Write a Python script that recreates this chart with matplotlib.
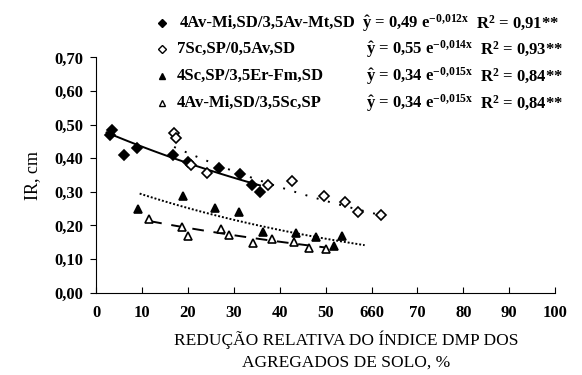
import numpy as np
import matplotlib
matplotlib.use('Agg')
from matplotlib import pyplot as plt
from matplotlib.lines import Line2D

plt.rcParams['font.family'] = ['Liberation Serif', 'DejaVu Serif']
plt.rcParams['mathtext.fontset'] = 'custom'
plt.rcParams['mathtext.rm'] = 'Liberation Serif:bold'
plt.rcParams['mathtext.it'] = 'Liberation Serif:bold'
plt.rcParams['mathtext.bf'] = 'Liberation Serif:bold'

# data
names = ['4Av-Mi,SD/3,5Av-Mt,SD', '7Sc,SP/0,5Av,SD',
         '4Sc,SP/3,5Er-Fm,SD', '4Av-Mi,SD/3,5Sc,SP']
equations = [r'$\hat{\mathrm{y}}$ = 0,49 e$^{\mathrm{-0{,}012x}}$',
             r'$\hat{\mathrm{y}}$ = 0,55 e$^{\mathrm{-0{,}014x}}$',
             r'$\hat{\mathrm{y}}$ = 0,34 e$^{\mathrm{-0{,}015x}}$',
             r'$\hat{\mathrm{y}}$ = 0,34 e$^{\mathrm{-0{,}015x}}$']
r2_texts = [r'R$^{\mathrm{2}}$ = 0,91**', r'R$^{\mathrm{2}}$ = 0,93**',
            r'R$^{\mathrm{2}}$ = 0,84**', r'R$^{\mathrm{2}}$ = 0,84**']

x1 = [3.0, 3.5, 6.0, 8.9, 16.7, 20.0, 26.8, 31.3, 33.9, 35.8]
y1 = [0.470, 0.483, 0.410, 0.430, 0.410, 0.390, 0.371, 0.352, 0.319, 0.299]

x2 = [17.0, 17.4, 20.7, 24.1, 37.5, 42.7, 49.7, 54.3, 57.1, 62.0]
y2 = [0.475, 0.459, 0.380, 0.357, 0.319, 0.332, 0.289, 0.270, 0.241, 0.231]

x3 = [9.2, 19.0, 26.0, 31.1, 36.3, 43.6, 48.0, 51.8, 53.5]
y3 = [0.250, 0.289, 0.251, 0.240, 0.180, 0.177, 0.166, 0.139, 0.169]

x4 = [11.6, 18.8, 20.0, 27.3, 29.0, 34.1, 38.4, 43.2, 46.4, 50.0]
y4 = [0.220, 0.196, 0.169, 0.190, 0.171, 0.149, 0.159, 0.151, 0.134, 0.131]

# fitted curves as drawn: a * exp(-b x) over [start, end]
fit_a = [0.49, 0.55, 0.34, 0.245]
fit_b = [0.012, 0.014, 0.015, 0.012]
fit_start = [2.3, 17.0, 9.5, 11.8]
fit_end = [35.7, 62.0, 58.5, 50.0]

xticks = [0, 10, 20, 30, 40, 50, 60, 70, 80, 90, 100]
xticklabels = ['0', '10', '20', '30', '40', '50', '660', '70', '80', '90', '100']
yticks = [0.0, 0.1, 0.2, 0.3, 0.4, 0.5, 0.6, 0.7]
yticklabels = ['0,00', '0,10', '0,20', '0,30', '0,40', '0,50', '0,60', '0,70']

xs = [x1, x2, x3, x4]
ys = [y1, y2, y3, y4]
markers = ['D', 'D', '^', '^']
faces = ['black', 'white', 'black', 'white']
msizes = [5.5, 5.5, 6, 6]
styles = ['-', (0, (1, 5)), (0, (1, 1)), (0, (6, 5))]

fig = plt.figure(figsize=(5.82, 3.75), dpi=100)
ax = fig.add_axes([0.165, 0.2195, 0.789, 0.6275])

for i in range(4):
    xf = np.linspace(fit_start[i], fit_end[i], 100)
    ax.plot(xf, fit_a[i] * np.exp(-fit_b[i] * xf), color='black',
            linestyle=styles[i], lw=1.4)
    ax.plot(xs[i], ys[i], linestyle='none', marker=markers[i],
            markersize=msizes[i], markerfacecolor=faces[i],
            markeredgecolor='black', markeredgewidth=1.2)

ax.set_xlim(0, 100)
ax.set_ylim(0, 0.70)
ax.set_xticks(xticks)
ax.set_xticklabels(xticklabels)
ax.set_yticks(yticks)
ax.set_yticklabels(yticklabels)
ax.spines['top'].set_visible(False)
ax.spines['right'].set_visible(False)
ax.tick_params(axis='x', direction='in', length=4, labelsize=12, pad=9)
ax.tick_params(axis='y', direction='out', length=4, labelsize=12, pad=5)
for lab in ax.get_xticklabels() + ax.get_yticklabels():
    lab.set_fontweight('bold')

ax.set_xlabel('REDUÇÃO RELATIVA DO ÍNDICE DMP DOS\nAGREGADOS DE SOLO, %',
              fontsize=12.5, linespacing=1.45, x=0.545, labelpad=7)
ax.set_ylabel('IR, cm', fontsize=13, labelpad=10)

# legend block at the top
row_y = [23, 49, 76, 103]
for i in range(4):
    yf = 1 - row_y[i] / 375
    fig.add_artist(Line2D([162 / 582], [yf], transform=fig.transFigure,
                          marker=markers[i], markersize=4.5,
                          markerfacecolor=faces[i], markeredgecolor='black',
                          markeredgewidth=1.0, linestyle='none'))
    fig.text(177 / 582 if i else 180 / 582, yf, names[i], fontsize=12,
             fontweight='bold', va='center', ha='left')
    fig.text(362 / 582 if i == 0 else 366 / 582, yf, equations[i],
             fontsize=12, fontweight='bold', va='center', ha='left')
    fig.text(476 / 582 if i == 0 else 480 / 582, yf, r2_texts[i],
             fontsize=12, fontweight='bold', va='center', ha='left')

plt.savefig('out.png', dpi=100)
